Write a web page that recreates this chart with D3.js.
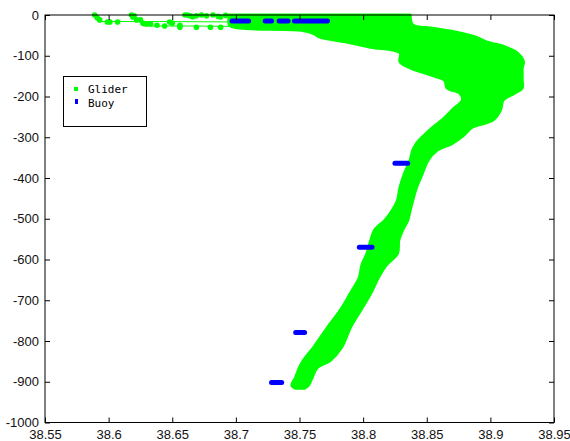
<!DOCTYPE html>
<html>
<head>
<meta charset="utf-8">
<script src="https://cdn.jsdelivr.net/npm/d3@7"></script>
<style>
  html, body { margin: 0; padding: 0; background: #fff; }
  svg { display: block; }
  .tick text { font-family: "Liberation Sans", Arial, sans-serif; font-size: 13px; fill: #111; }
  .legend text { font-family: "DejaVu Sans Mono", monospace; font-size: 11px; fill: #000; }
</style>
</head>
<body>
<svg id="chart" width="570" height="441"></svg>
<script>
// Axis ticks
const xTicks = [38.55, 38.6, 38.65, 38.7, 38.75, 38.8, 38.85, 38.9, 38.95];
const xTickLabels = ["38.55", "38.6", "38.65", "38.7", "38.75", "38.8", "38.85", "38.9", "38.95"];
const yTicks = [0, -100, -200, -300, -400, -500, -600, -700, -800, -900, -1000];
const yTickLabels = ["0", "-100", "-200", "-300", "-400", "-500", "-600", "-700", "-800", "-900", "-1000"];

// Glider profiles: salinity envelope (min / max) at each depth level
const gliderDepth = [0, -25, -32, -37, -44, -54, -66, -79, -93, -115,
  -130, -147, -160, -179, -192, -209, -233, -258, -275, -295,
  -315, -332, -356, -393, -423, -455, -479, -504, -528, -553,
  -585, -614, -644, -683, -725, -767, -816, -848, -865, -889,
  -909, -916];
const gliderSalMin = [38.695, 38.695, 38.703, 38.750, 38.760, 38.766, 38.786, 38.806, 38.829, 38.829,
  38.837, 38.853, 38.864, 38.866, 38.876, 38.878, 38.870, 38.862, 38.855, 38.848,
  38.842, 38.839, 38.837, 38.832, 38.829, 38.827, 38.823, 38.817, 38.809, 38.806,
  38.803, 38.799, 38.797, 38.790, 38.782, 38.772, 38.761, 38.753, 38.750, 38.747,
  38.744, 38.747];
const gliderSalMax = [38.837, 38.839, 38.853, 38.863, 38.876, 38.888, 38.897, 38.912, 38.921, 38.926,
  38.925, 38.925, 38.925, 38.925, 38.919, 38.910, 38.908, 38.902, 38.886, 38.879,
  38.870, 38.858, 38.851, 38.846, 38.842, 38.839, 38.837, 38.835, 38.831, 38.828,
  38.827, 38.818, 38.812, 38.806, 38.798, 38.790, 38.783, 38.774, 38.764, 38.760,
  38.757, 38.754];

// Glider near-surface samples (salinity, depth)
const gliderSurfSal = [38.589, 38.591, 38.593, 38.599, 38.601, 38.607, 38.618, 38.619, 38.622, 38.625,
  38.627, 38.630, 38.633, 38.638, 38.644, 38.648, 38.650, 38.656, 38.660, 38.662,
  38.664, 38.669, 38.677, 38.682, 38.688, 38.656, 38.669, 38.680, 38.688, 38.620,
  38.673, 38.686, 38.692, 38.666];
const gliderSurfDepth = [0, -7, -12, -17, -17, -17, 0, -5, -12, -12,
  -20, -22, -22, -25, -27, -17, -20, -25, 0, 0,
  -2, -2, -2, 0, -5, -30, -30, -30, -30, -2,
  0, -3, -1, -4];

// Glider surface tracks
const trackASal = [38.591, 38.640, 38.695];
const trackADepth = [-16, -16, -17];
const trackBSal = [38.627, 38.665, 38.700];
const trackBDepth = [-27, -27, -28];

// Buoy sensors: depth and salinity span of the readings
const buoyDepth = [-15, -15, -15, -15, -364, -570, -779, -902];
const buoySalMin = [38.697, 38.723, 38.734, 38.746, 38.825, 38.797, 38.747, 38.728];
const buoySalMax = [38.710, 38.728, 38.741, 38.772, 38.835, 38.807, 38.754, 38.736];

const GREEN = "#00ff00";
const BLUE = "#0000ff";

const svg = d3.select("#chart");
const plotLeft = 45, plotRight = 554, plotTop = 15, plotBottom = 422.5;

const x = d3.scaleLinear().domain([38.55, 38.95]).range([plotLeft, plotRight]);
const y = d3.scaleLinear().domain([-1000, 0]).range([plotBottom, plotTop]);

// Glider envelope
const gliderRows = gliderDepth.map((d, i) => ({ d, lo: gliderSalMin[i], hi: gliderSalMax[i] }));
const area = d3.area()
  .y(r => y(r.d))
  .x0(r => x(r.lo))
  .x1(r => x(r.hi))
  .curve(d3.curveCatmullRom.alpha(0.5));
svg.append("path")
  .datum(gliderRows)
  .attr("d", area)
  .attr("fill", GREEN)
  .attr("stroke", GREEN)
  .attr("stroke-width", 3)
  .attr("stroke-linejoin", "round");

// Surface tracks
const line = d3.line().x(p => x(p[0])).y(p => y(p[1]));
[[trackASal, trackADepth], [trackBSal, trackBDepth]].forEach(([s, d]) => {
  svg.append("path")
    .datum(s.map((v, i) => [v, d[i]]))
    .attr("d", line)
    .attr("fill", "none")
    .attr("stroke", GREEN)
    .attr("stroke-width", 1);
});

// Surface samples
svg.append("g")
  .selectAll("circle")
  .data(gliderSurfSal.map((v, i) => [v, gliderSurfDepth[i]]))
  .join("circle")
  .attr("cx", p => x(p[0]))
  .attr("cy", p => y(p[1]))
  .attr("r", 2.8)
  .attr("fill", GREEN);

// Buoy readings
svg.append("g")
  .selectAll("line")
  .data(buoyDepth.map((d, i) => ({ d, lo: buoySalMin[i], hi: buoySalMax[i] })))
  .join("line")
  .attr("x1", r => x(r.lo))
  .attr("x2", r => x(r.hi))
  .attr("y1", r => y(r.d))
  .attr("y2", r => y(r.d))
  .attr("stroke", BLUE)
  .attr("stroke-width", 5)
  .attr("stroke-linecap", "round");

// Frame and ticks (ticks point inward on every side)
const fmtX = v => xTickLabels[xTicks.indexOf(v)];
const fmtY = v => yTickLabels[yTicks.indexOf(v)];

const gx = svg.append("g").attr("transform", `translate(0,${plotBottom})`)
  .call(d3.axisBottom(x).tickValues(xTicks).tickFormat(fmtX).tickSizeInner(-5).tickSizeOuter(0).tickPadding(7));
const gxt = svg.append("g").attr("transform", `translate(0,${plotTop})`)
  .call(d3.axisTop(x).tickValues(xTicks).tickFormat("").tickSizeInner(-5).tickSizeOuter(0));
const gy = svg.append("g").attr("transform", `translate(${plotLeft},0)`)
  .call(d3.axisLeft(y).tickValues(yTicks).tickFormat(fmtY).tickSizeInner(-5).tickSizeOuter(0).tickPadding(6));
const gyr = svg.append("g").attr("transform", `translate(${plotRight},0)`)
  .call(d3.axisRight(y).tickValues(yTicks).tickFormat("").tickSizeInner(-5).tickSizeOuter(0));

[gx, gxt, gy, gyr].forEach(g => {
  g.select(".domain").remove();
  g.selectAll(".tick line").attr("stroke", "#000");
  g.selectAll(".tick text").attr("font-family", null).attr("font-size", null);
});

svg.append("rect")
  .attr("x", plotLeft).attr("y", plotTop)
  .attr("width", plotRight - plotLeft).attr("height", plotBottom - plotTop)
  .attr("fill", "none").attr("stroke", "#000").attr("stroke-width", 1);

// Legend
const legend = svg.append("g").attr("class", "legend");
legend.append("rect")
  .attr("x", 63.5).attr("y", 76.5).attr("width", 83).attr("height", 50)
  .attr("fill", "#fff").attr("stroke", "#000").attr("stroke-width", 1);
legend.append("rect").attr("x", 74).attr("y", 87).attr("width", 4).attr("height", 4).attr("fill", GREEN);
legend.append("rect").attr("x", 75).attr("y", 99).attr("width", 3).attr("height", 5).attr("fill", BLUE);
legend.append("text").attr("x", 88).attr("y", 93).text("Glider");
legend.append("text").attr("x", 88).attr("y", 106.5).text("Buoy");
</script>
</body>
</html>
